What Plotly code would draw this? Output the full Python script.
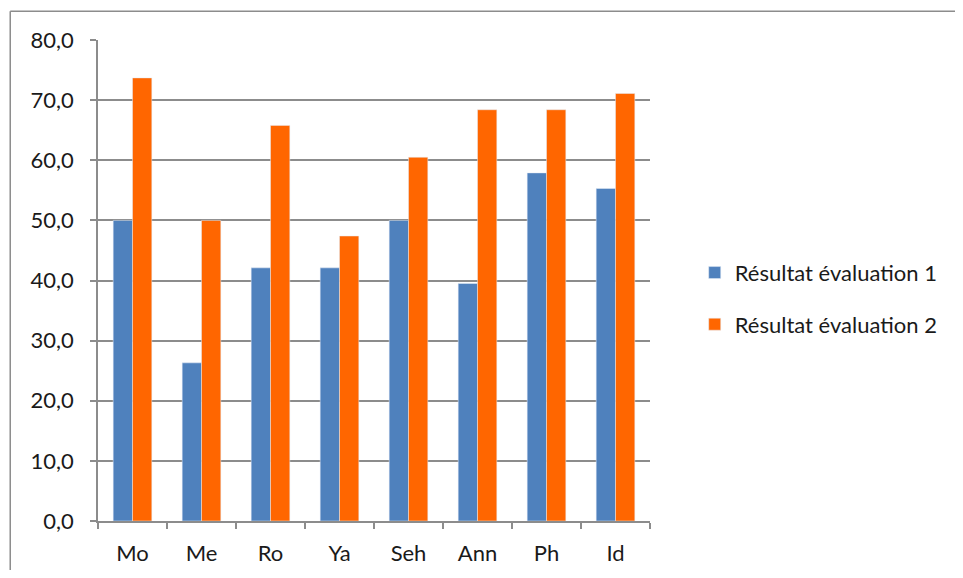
import plotly.graph_objects as go

# --- Data ---
students = ["Mo", "Me", "Ro", "Ya", "Seh", "Ann", "Ph", "Id"]
eval_1 = [50.0, 26.3, 42.1, 42.1, 50.0, 39.5, 57.9, 55.3]
eval_2 = [73.7, 50.0, 65.8, 47.4, 60.5, 68.4, 68.4, 71.1]
series_names = ["Résultat évaluation 1", "Résultat évaluation 2"]
y_ticks = [0, 10, 20, 30, 40, 50, 60, 70, 80]

BLUE = "#4f81bd"
ORANGE = "#ff6600"
GRID = "#8c8c8c"
FONT = "Lato, 'Open Sans', sans-serif"

fig = go.Figure()
fig.add_trace(go.Bar(x=students, y=eval_1, name=series_names[0], marker_color=BLUE,
                     legendgroup="a"))
fig.add_trace(go.Bar(x=students, y=eval_2, name=series_names[1], marker_color=ORANGE,
                     legendgroup="b"))

# chart frame: only its top and left edges fall inside the window
frame = dict(color="#8c8c8c", width=1.5)

# page body has an 8px margin, so the figure is laid out 8px in from the window edge
fig.update_layout(
    width=947, height=562,
    margin=dict(l=90, r=303, t=32, b=49),
    barmode="group",
    bargap=0.44,
    bargroupgap=0,
    plot_bgcolor="white",
    paper_bgcolor="white",
    separators=", ",
    font=dict(family=FONT, size=22, color="#1a1a1a"),
    legend=dict(x=1.081, y=0.462, xanchor="left", yanchor="middle",
                tracegroupgap=20, font=dict(size=22),
                traceorder="grouped"),
    shapes=[
        dict(type="line", xref="paper", yref="paper",
             x0=-0.159, x1=1.6, y0=1.060, y1=1.060, line=frame),
        dict(type="line", xref="paper", yref="paper",
             x0=-0.159, x1=-0.159, y0=-0.2, y1=1.060, line=frame),
    ],
)

fig.update_xaxes(
    showline=True, linecolor=GRID, linewidth=1.5,
    ticks="outside", tickson="boundaries", ticklen=6, tickcolor=GRID,
    tickwidth=1.5, showgrid=False, ticklabelstandoff=12, automargin=False,
)
fig.update_yaxes(
    range=[0, 80], tickvals=y_ticks, tickformat=".1f",
    showline=True, linecolor=GRID, linewidth=1.5,
    ticks="outside", ticklen=6, tickcolor=GRID, tickwidth=1.5,
    showgrid=True, gridcolor=GRID, gridwidth=1.5, zeroline=False,
    ticklabelstandoff=12, automargin=False,
)

fig.write_html("out.html")
